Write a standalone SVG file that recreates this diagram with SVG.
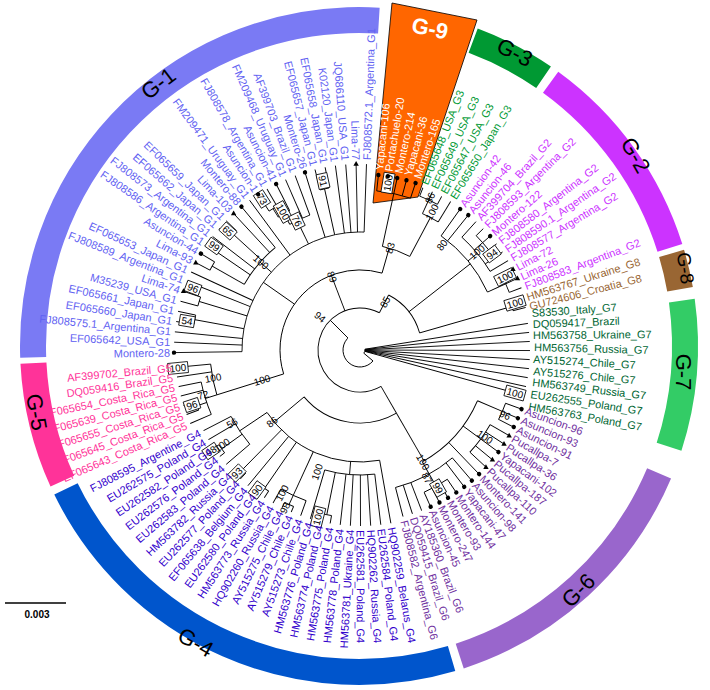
<svg xmlns="http://www.w3.org/2000/svg" width="710" height="690" viewBox="0 0 710 690">
<style>
text{font-family:"Liberation Sans",Arial,sans-serif}
.lf text{font-size:11px}
.e{text-anchor:end}
.c1{fill:#6262F2}.c5{fill:#FF3399}.c4{fill:#3300CC}.c6{fill:#7030A0}.c7{fill:#006633}.c8{fill:#996633}.c2{fill:#CC33FF}.c3{fill:#009933}.c9{fill:#FFFFFF}
.mk{fill:#000}
.cn line{stroke:#000;stroke-width:0.9}
.cn circle{fill:none;stroke:#000;stroke-width:0.9}
.ring circle{fill:none;stroke-width:26}
.bs text{font-size:10px;fill:#000;text-anchor:middle}
.bs rect{fill:#fff;stroke:#000;stroke-width:0.8}
.gl{font-size:22px;fill:#000;text-anchor:middle}
</style>
<rect width="710" height="690" fill="#fff"/>
<g id="rings" class="ring">
<circle cx="359" cy="346" r="326" pathLength="360" stroke-dasharray="95.5 400" transform="rotate(178 359 346)" stroke="#7A7AF4"/>
<circle cx="359" cy="346" r="326" pathLength="360" stroke-dasharray="21.5 400" transform="rotate(155.5 359 346)" stroke="#FF3399"/>
<circle cx="359" cy="346" r="326" pathLength="360" stroke-dasharray="80.5 400" transform="rotate(73.5 359 346)" stroke="#0055CC"/>
<circle cx="359" cy="346" r="326" pathLength="360" stroke-dasharray="49 400" transform="rotate(23 359 346)" stroke="#9966CC"/>
<circle cx="359" cy="346" r="326" pathLength="360" stroke-dasharray="26 400" transform="rotate(-8 359 346)" stroke="#33CC66"/>
<circle cx="359" cy="346" r="326" pathLength="360" stroke-dasharray="6.5 400" transform="rotate(343.5 359 346)" stroke="#996633"/>
<circle cx="359" cy="346" r="326" pathLength="360" stroke-dasharray="36.5 400" transform="rotate(306 359 346)" stroke="#CC33FF"/>
<circle cx="359" cy="346" r="326" pathLength="360" stroke-dasharray="14 400" transform="rotate(290.5 359 346)" stroke="#009933"/>
</g>
<polygon id="G9-box" points="392,3 477,20 418,197 373,203" fill="#FF6600" stroke="#000" stroke-width="0.8"/>
<g id="connectors" class="cn">
<line x1="365" y1="350" x2="530" y2="350" transform="rotate(-9 360 350)"/>
<line x1="365" y1="350" x2="530" y2="350" transform="rotate(-5.94 360 350)"/>
<line x1="365" y1="350" x2="530" y2="350" transform="rotate(-2.88 360 350)"/>
<line x1="365" y1="350" x2="530" y2="350" transform="rotate(0.18 360 350)"/>
<line x1="365" y1="350" x2="530" y2="350" transform="rotate(3.24 360 350)"/>
<line x1="365" y1="350" x2="530" y2="350" transform="rotate(6.3 360 350)"/>
<line x1="365" y1="350" x2="530" y2="350" transform="rotate(9.36 360 350)"/>
<line x1="365" y1="350" x2="530" y2="350" transform="rotate(12.42 360 350)"/>
<line x1="365" y1="350" x2="530" y2="350" transform="rotate(15.48 360 350)"/>
<circle cx="360" cy="350" r="5" pathLength="360" stroke-dasharray="49 400" transform="rotate(-9 360 350)"/>
<line x1="365" y1="350" x2="377" y2="350" transform="rotate(40 360 350)"/>
<circle cx="360" cy="350" r="17" pathLength="360" stroke-dasharray="185 400" transform="rotate(40 360 350)"/>
<line x1="377" y1="350" x2="402" y2="350" transform="rotate(225 360 350)"/>
<circle cx="360" cy="350" r="42" pathLength="360" stroke-dasharray="237.5 400" transform="rotate(60 360 350)"/>
<line x1="402" y1="350" x2="433" y2="350" transform="rotate(60 360 350)"/>
<circle cx="360" cy="350" r="73" pathLength="360" stroke-dasharray="80 400" transform="rotate(60 360 350)"/>
<line x1="433" y1="350" x2="488" y2="350" transform="rotate(60 360 350)"/>
<circle cx="360" cy="350" r="128" pathLength="360" stroke-dasharray="37.49 400" transform="rotate(23.36 360 350)"/>
<line x1="488" y1="350" x2="515" y2="350" transform="rotate(23.36 360 350)"/>
<circle cx="360" cy="350" r="155" pathLength="360" stroke-dasharray="6.52 400" transform="rotate(20.1 360 350)"/>
<line x1="515" y1="350" x2="532" y2="350" transform="rotate(20.1 360 350)"/>
<line x1="515" y1="350" x2="532" y2="350" transform="rotate(23.36 360 350)"/>
<line x1="515" y1="350" x2="532" y2="350" transform="rotate(26.62 360 350)"/>
<line x1="488" y1="350" x2="510" y2="350" transform="rotate(36.4 360 350)"/>
<circle cx="360" cy="350" r="150" pathLength="360" stroke-dasharray="13.04 400" transform="rotate(29.88 360 350)"/>
<line x1="510" y1="350" x2="532" y2="350" transform="rotate(29.88 360 350)"/>
<line x1="510" y1="350" x2="532" y2="350" transform="rotate(33.14 360 350)"/>
<line x1="510" y1="350" x2="532" y2="350" transform="rotate(36.4 360 350)"/>
<line x1="510" y1="350" x2="532" y2="350" transform="rotate(39.66 360 350)"/>
<line x1="510" y1="350" x2="532" y2="350" transform="rotate(42.92 360 350)"/>
<line x1="488" y1="350" x2="532" y2="350" transform="rotate(46.18 360 350)"/>
<line x1="488" y1="350" x2="502" y2="350" transform="rotate(60.85 360 350)"/>
<circle cx="360" cy="350" r="142" pathLength="360" stroke-dasharray="26.08 400" transform="rotate(49.44 360 350)"/>
<line x1="502" y1="350" x2="532" y2="350" transform="rotate(49.44 360 350)"/>
<line x1="502" y1="350" x2="532" y2="350" transform="rotate(52.7 360 350)"/>
<line x1="502" y1="350" x2="532" y2="350" transform="rotate(69 360 350)"/>
<line x1="502" y1="350" x2="532" y2="350" transform="rotate(72.26 360 350)"/>
<line x1="502" y1="350" x2="532" y2="350" transform="rotate(75.52 360 350)"/>
<line x1="502" y1="350" x2="516" y2="350" transform="rotate(60.85 360 350)"/>
<circle cx="360" cy="350" r="156" pathLength="360" stroke-dasharray="9.78 400" transform="rotate(55.96 360 350)"/>
<line x1="516" y1="350" x2="532" y2="350" transform="rotate(55.96 360 350)"/>
<line x1="516" y1="350" x2="532" y2="350" transform="rotate(59.22 360 350)"/>
<line x1="516" y1="350" x2="532" y2="350" transform="rotate(62.48 360 350)"/>
<line x1="516" y1="350" x2="532" y2="350" transform="rotate(65.74 360 350)"/>
<line x1="433" y1="350" x2="472" y2="350" transform="rotate(140 360 350)"/>
<circle cx="360" cy="350" r="112" pathLength="360" stroke-dasharray="66.2 400" transform="rotate(79.9 360 350)"/>
<line x1="472" y1="350" x2="536" y2="350" transform="rotate(79.9 360 350)"/>
<line x1="472" y1="350" x2="485" y2="350" transform="rotate(94.8 360 350)"/>
<circle cx="360" cy="350" r="125" pathLength="360" stroke-dasharray="23.17 400" transform="rotate(83.21 360 350)"/>
<line x1="485" y1="350" x2="536" y2="350" transform="rotate(83.21 360 350)"/>
<line x1="485" y1="350" x2="536" y2="350" transform="rotate(86.52 360 350)"/>
<line x1="485" y1="350" x2="536" y2="350" transform="rotate(89.83 360 350)"/>
<line x1="485" y1="350" x2="536" y2="350" transform="rotate(93.14 360 350)"/>
<line x1="485" y1="350" x2="536" y2="350" transform="rotate(96.45 360 350)"/>
<line x1="485" y1="350" x2="536" y2="350" transform="rotate(106.38 360 350)"/>
<line x1="485" y1="350" x2="528" y2="350" transform="rotate(101.4 360 350)"/>
<circle cx="360" cy="350" r="168" pathLength="360" stroke-dasharray="3.31 400" transform="rotate(99.76 360 350)"/>
<line x1="528" y1="350" x2="536" y2="350" transform="rotate(99.76 360 350)"/>
<line x1="528" y1="350" x2="536" y2="350" transform="rotate(103.07 360 350)"/>
<line x1="472" y1="350" x2="520" y2="350" transform="rotate(114.66 360 350)"/>
<circle cx="360" cy="350" r="160" pathLength="360" stroke-dasharray="9.93 400" transform="rotate(109.69 360 350)"/>
<line x1="520" y1="350" x2="536" y2="350" transform="rotate(109.69 360 350)"/>
<line x1="520" y1="350" x2="536" y2="350" transform="rotate(119.62 360 350)"/>
<line x1="520" y1="350" x2="530" y2="350" transform="rotate(114.66 360 350)"/>
<circle cx="360" cy="350" r="170" pathLength="360" stroke-dasharray="3.31 400" transform="rotate(113 360 350)"/>
<line x1="530" y1="350" x2="536" y2="350" transform="rotate(113 360 350)"/>
<line x1="530" y1="350" x2="536" y2="350" transform="rotate(116.31 360 350)"/>
<line x1="472" y1="350" x2="528" y2="350" transform="rotate(124.6 360 350)"/>
<circle cx="360" cy="350" r="168" pathLength="360" stroke-dasharray="3.31 400" transform="rotate(122.93 360 350)"/>
<line x1="528" y1="350" x2="536" y2="350" transform="rotate(122.93 360 350)"/>
<line x1="528" y1="350" x2="536" y2="350" transform="rotate(126.24 360 350)"/>
<line x1="472" y1="350" x2="536" y2="350" transform="rotate(129.55 360 350)"/>
<line x1="472" y1="350" x2="528" y2="350" transform="rotate(134.5 360 350)"/>
<circle cx="360" cy="350" r="168" pathLength="360" stroke-dasharray="3.31 400" transform="rotate(132.86 360 350)"/>
<line x1="528" y1="350" x2="536" y2="350" transform="rotate(132.86 360 350)"/>
<line x1="528" y1="350" x2="536" y2="350" transform="rotate(136.17 360 350)"/>
<line x1="472" y1="350" x2="505" y2="350" transform="rotate(146.1 360 350)"/>
<circle cx="360" cy="350" r="145" pathLength="360" stroke-dasharray="13.24 400" transform="rotate(139.48 360 350)"/>
<line x1="505" y1="350" x2="536" y2="350" transform="rotate(139.48 360 350)"/>
<line x1="505" y1="350" x2="536" y2="350" transform="rotate(149.41 360 350)"/>
<line x1="505" y1="350" x2="536" y2="350" transform="rotate(152.72 360 350)"/>
<line x1="505" y1="350" x2="530" y2="350" transform="rotate(144.45 360 350)"/>
<circle cx="360" cy="350" r="170" pathLength="360" stroke-dasharray="3.31 400" transform="rotate(142.79 360 350)"/>
<line x1="530" y1="350" x2="536" y2="350" transform="rotate(142.79 360 350)"/>
<line x1="530" y1="350" x2="536" y2="350" transform="rotate(146.1 360 350)"/>
<line x1="440" y1="350" x2="510" y2="350" transform="rotate(162.6 360 350)"/>
<circle cx="360" cy="350" r="150" pathLength="360" stroke-dasharray="12 400" transform="rotate(162.6 360 350)"/>
<line x1="510" y1="350" x2="522" y2="350" transform="rotate(162.6 360 350)"/>
<circle cx="360" cy="350" r="162" pathLength="360" stroke-dasharray="12 400" transform="rotate(156.6 360 350)"/>
<line x1="522" y1="350" x2="545" y2="350" transform="rotate(156.6 360 350)"/>
<line x1="522" y1="350" x2="545" y2="350" transform="rotate(165.6 360 350)"/>
<line x1="522" y1="350" x2="545" y2="350" transform="rotate(168.6 360 350)"/>
<line x1="522" y1="350" x2="532" y2="350" transform="rotate(161.1 360 350)"/>
<circle cx="360" cy="350" r="172" pathLength="360" stroke-dasharray="3 400" transform="rotate(159.6 360 350)"/>
<line x1="532" y1="350" x2="545" y2="350" transform="rotate(159.6 360 350)"/>
<line x1="532" y1="350" x2="545" y2="350" transform="rotate(162.6 360 350)"/>
<line x1="510" y1="350" x2="545" y2="350" transform="rotate(171.6 360 350)"/>
<line x1="510" y1="350" x2="545" y2="350" transform="rotate(174.6 360 350)"/>
<line x1="402" y1="350" x2="440" y2="350" transform="rotate(249 360 350)"/>
<circle cx="360" cy="350" r="80" pathLength="360" stroke-dasharray="123.4 400" transform="rotate(162.6 360 350)"/>
<line x1="440" y1="350" x2="478" y2="350" transform="rotate(215 360 350)"/>
<circle cx="360" cy="350" r="118" pathLength="360" stroke-dasharray="92.8 400" transform="rotate(179.2 360 350)"/>
<line x1="478" y1="350" x2="546" y2="350" transform="rotate(179.2 360 350)"/>
<line x1="478" y1="350" x2="546" y2="350" transform="rotate(182.4 360 350)"/>
<line x1="478" y1="350" x2="546" y2="350" transform="rotate(185.6 360 350)"/>
<line x1="478" y1="350" x2="546" y2="350" transform="rotate(201.6 360 350)"/>
<line x1="478" y1="350" x2="546" y2="350" transform="rotate(204.8 360 350)"/>
<line x1="478" y1="350" x2="546" y2="350" transform="rotate(233.6 360 350)"/>
<line x1="478" y1="350" x2="546" y2="350" transform="rotate(252.8 360 350)"/>
<line x1="478" y1="350" x2="546" y2="350" transform="rotate(262.4 360 350)"/>
<line x1="478" y1="350" x2="546" y2="350" transform="rotate(265.6 360 350)"/>
<line x1="478" y1="350" x2="546" y2="350" transform="rotate(268.8 360 350)"/>
<line x1="478" y1="350" x2="546" y2="350" transform="rotate(272 360 350)"/>
<line x1="478" y1="350" x2="528" y2="350" transform="rotate(190.4 360 350)"/>
<circle cx="360" cy="350" r="168" pathLength="360" stroke-dasharray="3.2 400" transform="rotate(188.8 360 350)"/>
<line x1="528" y1="350" x2="546" y2="350" transform="rotate(188.8 360 350)"/>
<line x1="528" y1="350" x2="546" y2="350" transform="rotate(192 360 350)"/>
<line x1="478" y1="350" x2="528" y2="350" transform="rotate(196.8 360 350)"/>
<circle cx="360" cy="350" r="168" pathLength="360" stroke-dasharray="3.2 400" transform="rotate(195.2 360 350)"/>
<line x1="528" y1="350" x2="546" y2="350" transform="rotate(195.2 360 350)"/>
<line x1="528" y1="350" x2="546" y2="350" transform="rotate(198.4 360 350)"/>
<line x1="478" y1="350" x2="493" y2="350" transform="rotate(221.3 360 350)"/>
<circle cx="360" cy="350" r="133" pathLength="360" stroke-dasharray="20.8 400" transform="rotate(209.6 360 350)"/>
<line x1="493" y1="350" x2="530" y2="350" transform="rotate(209.6 360 350)"/>
<circle cx="360" cy="350" r="170" pathLength="360" stroke-dasharray="3.2 400" transform="rotate(208 360 350)"/>
<line x1="530" y1="350" x2="546" y2="350" transform="rotate(208 360 350)"/>
<line x1="530" y1="350" x2="546" y2="350" transform="rotate(211.2 360 350)"/>
<line x1="493" y1="350" x2="546" y2="350" transform="rotate(214.4 360 350)"/>
<line x1="493" y1="350" x2="546" y2="350" transform="rotate(217.6 360 350)"/>
<line x1="493" y1="350" x2="546" y2="350" transform="rotate(227.2 360 350)"/>
<line x1="493" y1="350" x2="546" y2="350" transform="rotate(230.4 360 350)"/>
<line x1="493" y1="350" x2="532" y2="350" transform="rotate(222.4 360 350)"/>
<circle cx="360" cy="350" r="172" pathLength="360" stroke-dasharray="3.2 400" transform="rotate(220.8 360 350)"/>
<line x1="532" y1="350" x2="546" y2="350" transform="rotate(220.8 360 350)"/>
<line x1="532" y1="350" x2="546" y2="350" transform="rotate(224 360 350)"/>
<line x1="478" y1="350" x2="504" y2="350" transform="rotate(244.1 360 350)"/>
<circle cx="360" cy="350" r="144" pathLength="360" stroke-dasharray="8.8 400" transform="rotate(240.8 360 350)"/>
<line x1="504" y1="350" x2="516" y2="350" transform="rotate(240.8 360 350)"/>
<circle cx="360" cy="350" r="156" pathLength="360" stroke-dasharray="4.8 400" transform="rotate(238.4 360 350)"/>
<line x1="516" y1="350" x2="526" y2="350" transform="rotate(238.4 360 350)"/>
<circle cx="360" cy="350" r="166" pathLength="360" stroke-dasharray="3.2 400" transform="rotate(236.8 360 350)"/>
<line x1="526" y1="350" x2="546" y2="350" transform="rotate(236.8 360 350)"/>
<line x1="526" y1="350" x2="546" y2="350" transform="rotate(240 360 350)"/>
<line x1="516" y1="350" x2="546" y2="350" transform="rotate(243.2 360 350)"/>
<line x1="504" y1="350" x2="546" y2="350" transform="rotate(246.4 360 350)"/>
<line x1="504" y1="350" x2="546" y2="350" transform="rotate(249.6 360 350)"/>
<line x1="478" y1="350" x2="525" y2="350" transform="rotate(257.6 360 350)"/>
<circle cx="360" cy="350" r="165" pathLength="360" stroke-dasharray="3.2 400" transform="rotate(256 360 350)"/>
<line x1="525" y1="350" x2="546" y2="350" transform="rotate(256 360 350)"/>
<line x1="525" y1="350" x2="546" y2="350" transform="rotate(259.2 360 350)"/>
<line x1="440" y1="350" x2="466" y2="350" transform="rotate(286 360 350)"/>
<circle cx="360" cy="350" r="106" pathLength="360" stroke-dasharray="15.8 400" transform="rotate(282.2 360 350)"/>
<line x1="466" y1="350" x2="520" y2="350" transform="rotate(282.2 360 350)"/>
<circle cx="360" cy="350" r="160" pathLength="360" stroke-dasharray="12.4 400" transform="rotate(276 360 350)"/>
<line x1="520" y1="350" x2="536" y2="350" transform="rotate(276 360 350)"/>
<line x1="520" y1="350" x2="536" y2="350" transform="rotate(279.1 360 350)"/>
<line x1="520" y1="350" x2="536" y2="350" transform="rotate(282.2 360 350)"/>
<line x1="520" y1="350" x2="536" y2="350" transform="rotate(285.3 360 350)"/>
<line x1="520" y1="350" x2="536" y2="350" transform="rotate(288.4 360 350)"/>
<line x1="466" y1="350" x2="510" y2="350" transform="rotate(298 360 350)"/>
<circle cx="360" cy="350" r="150" pathLength="360" stroke-dasharray="6.8 400" transform="rotate(294.6 360 350)"/>
<line x1="510" y1="350" x2="525" y2="350" transform="rotate(294.6 360 350)"/>
<circle cx="360" cy="350" r="165" pathLength="360" stroke-dasharray="6.8 400" transform="rotate(291.2 360 350)"/>
<line x1="525" y1="350" x2="534" y2="350" transform="rotate(291.2 360 350)"/>
<line x1="525" y1="350" x2="534" y2="350" transform="rotate(294.6 360 350)"/>
<line x1="525" y1="350" x2="534" y2="350" transform="rotate(298 360 350)"/>
<line x1="510" y1="350" x2="534" y2="350" transform="rotate(301.4 360 350)"/>
<line x1="402" y1="350" x2="422" y2="350" transform="rotate(297.5 360 350)"/>
<circle cx="360" cy="350" r="62" pathLength="360" stroke-dasharray="46.5 400" transform="rotate(297.5 360 350)"/>
<line x1="422" y1="350" x2="500" y2="350" transform="rotate(322 360 350)"/>
<circle cx="360" cy="350" r="140" pathLength="360" stroke-dasharray="30.15 400" transform="rotate(305.4 360 350)"/>
<line x1="500" y1="350" x2="533" y2="350" transform="rotate(305.4 360 350)"/>
<line x1="500" y1="350" x2="533" y2="350" transform="rotate(308.75 360 350)"/>
<line x1="500" y1="350" x2="512" y2="350" transform="rotate(320.5 360 350)"/>
<circle cx="360" cy="350" r="152" pathLength="360" stroke-dasharray="16.75 400" transform="rotate(312.1 360 350)"/>
<line x1="512" y1="350" x2="533" y2="350" transform="rotate(312.1 360 350)"/>
<line x1="512" y1="350" x2="533" y2="350" transform="rotate(325.5 360 350)"/>
<line x1="512" y1="350" x2="533" y2="350" transform="rotate(328.85 360 350)"/>
<line x1="512" y1="350" x2="523" y2="350" transform="rotate(318.8 360 350)"/>
<circle cx="360" cy="350" r="163" pathLength="360" stroke-dasharray="6.7 400" transform="rotate(315.45 360 350)"/>
<line x1="523" y1="350" x2="533" y2="350" transform="rotate(315.45 360 350)"/>
<line x1="523" y1="350" x2="533" y2="350" transform="rotate(318.8 360 350)"/>
<line x1="523" y1="350" x2="533" y2="350" transform="rotate(322.15 360 350)"/>
<line x1="500" y1="350" x2="520" y2="350" transform="rotate(335.55 360 350)"/>
<circle cx="360" cy="350" r="160" pathLength="360" stroke-dasharray="6.7 400" transform="rotate(332.2 360 350)"/>
<line x1="520" y1="350" x2="533" y2="350" transform="rotate(332.2 360 350)"/>
<line x1="520" y1="350" x2="533" y2="350" transform="rotate(335.55 360 350)"/>
<line x1="520" y1="350" x2="533" y2="350" transform="rotate(338.9 360 350)"/>
<line x1="422" y1="350" x2="518" y2="350" transform="rotate(344 360 350)"/>
<circle cx="360" cy="350" r="158" pathLength="360" stroke-dasharray="3.2 400" transform="rotate(342.4 360 350)"/>
<line x1="518" y1="350" x2="531" y2="350" transform="rotate(342.4 360 350)"/>
<line x1="518" y1="350" x2="531" y2="350" transform="rotate(345.6 360 350)"/>
</g>
<g id="bootstrap" class="bs">
<g transform="translate(323 181) rotate(77.6)"><rect x="-7.5" y="-5.5" width="15" height="11"/><text y="3.6">91</text></g>
<g transform="translate(262 199) rotate(57.4)"><rect x="-7.5" y="-5.5" width="15" height="11"/><text y="3.6">73</text></g>
<g transform="translate(283 212) rotate(60.5)"><rect x="-10" y="-5.5" width="20" height="11"/><text y="3.6">100</text></g>
<g transform="translate(297 221) rotate(64.1)"><rect x="-7.5" y="-5.5" width="15" height="11"/><text y="3.6">76</text></g>
<g transform="translate(228 231) rotate(42)"><rect x="-7.5" y="-5.5" width="15" height="11"/><text y="3.6">65</text></g>
<g transform="translate(214 246) rotate(35.5)"><rect x="-7.5" y="-5.5" width="15" height="11"/><text y="3.6">99</text></g>
<g transform="translate(261 262) rotate(41.3)"><text y="3.6">100</text></g>
<g transform="translate(193 288) rotate(20.7)"><rect x="-7.5" y="-5.5" width="15" height="11"/><text y="3.6">96</text></g>
<g transform="translate(187 321) rotate(9.5)"><rect x="-7.5" y="-5.5" width="15" height="11"/><text y="3.6">54</text></g>
<g transform="translate(332 277) rotate(69)"><text y="3.6">89</text></g>
<g transform="translate(320 317) rotate(39.5)"><text y="3.6">94</text></g>
<g transform="translate(385 302) rotate(-62.5)"><text y="3.6">85</text></g>
<g transform="translate(390 248) rotate(-73.6)"><text y="3.6">83</text></g>
<g transform="translate(388 183) rotate(-80.5)"><rect x="-10" y="-5.5" width="20" height="11"/><text y="3.6">100</text></g>
<g transform="translate(430 198) rotate(-65.3)"><text y="3.6">86</text></g>
<g transform="translate(432 212) rotate(-62.5)"><text y="3.6">100</text></g>
<g transform="translate(442 245) rotate(-52)"><text y="3.6">80</text></g>
<g transform="translate(477 252) rotate(-40)"><text y="3.6">100</text></g>
<g transform="translate(492 254) rotate(-36.6)"><rect x="-7.5" y="-5.5" width="15" height="11"/><text y="3.6">94</text></g>
<g transform="translate(505 277) rotate(-26.7)"><rect x="-10" y="-5.5" width="20" height="11"/><text y="3.6">100</text></g>
<g transform="translate(515 303) rotate(-16.9)"><rect x="-10" y="-5.5" width="20" height="11"/><text y="3.6">100</text></g>
<g transform="translate(515 393) rotate(15.5)"><rect x="-10" y="-5.5" width="20" height="11"/><text y="3.6">100</text></g>
<g transform="translate(505 415) rotate(24.1)"><text y="3.6">96</text></g>
<g transform="translate(485 437) rotate(34.8)"><text y="3.6">100</text></g>
<g transform="translate(423 462) rotate(60.6)"><text y="3.6">100</text></g>
<g transform="translate(427 478) rotate(62.4)"><text y="3.6">87</text></g>
<g transform="translate(438 488) rotate(60.5)"><rect x="-7.5" y="-5.5" width="15" height="11"/><text y="3.6">99</text></g>
<g transform="translate(317 472) rotate(-70.6)"><text y="3.6">100</text></g>
<g transform="translate(318 517) rotate(-75.9)"><rect x="-10" y="-5.5" width="20" height="11"/><text y="3.6">100</text></g>
<g transform="translate(285 508) rotate(-64.6)"><text y="3.6">98</text></g>
<g transform="translate(282 493) rotate(-61.4)"><text y="3.6">100</text></g>
<g transform="translate(257 490) rotate(-53.7)"><rect x="-7.5" y="-5.5" width="15" height="11"/><text y="3.6">90</text></g>
<g transform="translate(237 473) rotate(-45)"><rect x="-7.5" y="-5.5" width="15" height="11"/><text y="3.6">93</text></g>
<g transform="translate(211 451) rotate(-34)"><rect x="-7.5" y="-5.5" width="15" height="11"/><text y="3.6">98</text></g>
<g transform="translate(222 445) rotate(-34)"><text y="3.6">100</text></g>
<g transform="translate(232 423) rotate(-29.7)"><text y="3.6">56</text></g>
<g transform="translate(272 422) rotate(-39.3)"><text y="3.6">86</text></g>
<g transform="translate(262 380) rotate(-17)"><text y="3.6">100</text></g>
<g transform="translate(213 378) rotate(-10.8)"><text y="3.6">100</text></g>
<g transform="translate(203 395) rotate(-16)"><text y="3.6">72</text></g>
<g transform="translate(192 405) rotate(-18.1)"><rect x="-7.5" y="-5.5" width="15" height="11"/><text y="3.6">96</text></g>
<g transform="translate(178 368) rotate(-5.6)"><rect x="-10" y="-5.5" width="20" height="11"/><text y="3.6">100</text></g>
</g>
<g id="leaves" class="lf">
<!-- G-1 -->
<g id="Montero-28" class="c1" transform="rotate(-0.8 360 350)"><circle class="mk" cx="174" cy="350" r="2.2"/><text class="e" x="170" y="354">Montero-28</text></g>
<g id="EF065642" class="c1" transform="rotate(2.4 360 350)"><text class="e" x="170" y="354">EF065642_USA_G1</text></g>
<g id="FJ808575.1" class="c1" transform="rotate(5.6 360 350)"><text class="e" x="170" y="354">FJ808575.1_Argentina_G1</text></g>
<g id="EF065660" class="c1" transform="rotate(8.8 360 350)"><text class="e" x="170" y="354">EF065660_Japan_G1</text></g>
<g id="EF065661" class="c1" transform="rotate(12 360 350)"><text class="e" x="170" y="354">EF065661_Japan_G1</text></g>
<g id="M35239" class="c1" transform="rotate(15.2 360 350)"><text class="e" x="170" y="354">M35239_USA_G1</text></g>
<g id="Lima-74" class="c1" transform="rotate(18.4 360 350)"><path class="mk" d="M0,-3L2.7,1.8L-2.7,1.8Z" transform="translate(174 350) rotate(-18.4)"/><text class="e" x="170" y="354">Lima-74</text></g>
<g id="FJ808589" class="c1" transform="rotate(21.6 360 350)"><text class="e" x="170" y="354">FJ808589_Argentina_G1</text></g>
<g id="EF065653" class="c1" transform="rotate(24.8 360 350)"><text class="e" x="170" y="354">EF065653_Japan_G1</text></g>
<g id="Lima-93" class="c1" transform="rotate(28 360 350)"><path class="mk" d="M0,-3L2.7,1.8L-2.7,1.8Z" transform="translate(174 350) rotate(-28)"/><text class="e" x="170" y="354">Lima-93</text></g>
<g id="Asuncion-44" class="c1" transform="rotate(31.2 360 350)"><circle class="mk" cx="174" cy="350" r="2.2"/><text class="e" x="170" y="354">Asuncion-44</text></g>
<g id="FJ808586" class="c1" transform="rotate(34.4 360 350)"><text class="e" x="170" y="354">FJ808586_Argentina_G1</text></g>
<g id="FJ808573" class="c1" transform="rotate(37.6 360 350)"><text class="e" x="170" y="354">FJ808573_Argentina_G1</text></g>
<g id="EF065662" class="c1" transform="rotate(40.8 360 350)"><text class="e" x="170" y="354">EF065662_Japan_G1</text></g>
<g id="EF065659" class="c1" transform="rotate(44 360 350)"><text class="e" x="170" y="354">EF065659_Japan_G1</text></g>
<g id="Lima-103" class="c1" transform="rotate(47.2 360 350)"><path class="mk" d="M0,-3L2.7,1.8L-2.7,1.8Z" transform="translate(174 350) rotate(-47.2)"/><text class="e" x="170" y="354">Lima-103</text></g>
<g id="Montero-88" class="c1" transform="rotate(50.4 360 350)"><circle class="mk" cx="174" cy="350" r="2.2"/><text class="e" x="170" y="354">Montero-88</text></g>
<g id="FM209471" class="c1" transform="rotate(53.6 360 350)"><text class="e" x="170" y="354">FM209471_Uruguay_G1</text></g>
<g id="Asuncion-1" class="c1" transform="rotate(56.8 360 350)"><circle class="mk" cx="174" cy="350" r="2.2"/><text class="e" x="170" y="354">Asuncion-1</text></g>
<g id="FJ808578" class="c1" transform="rotate(60 360 350)"><text class="e" x="170" y="354">FJ808578_Argentina_G1</text></g>
<g id="Asuncion-41" class="c1" transform="rotate(63.2 360 350)"><circle class="mk" cx="174" cy="350" r="2.2"/><text class="e" x="170" y="354">Asuncion-41</text></g>
<g id="FM209468" class="c1" transform="rotate(66.4 360 350)"><text class="e" x="170" y="354">FM209468_Uruguay_G1</text></g>
<g id="AF399703" class="c1" transform="rotate(69.6 360 350)"><text class="e" x="170" y="354">AF399703_Brazil_G1</text></g>
<g id="Montero-26" class="c1" transform="rotate(72.8 360 350)"><circle class="mk" cx="174" cy="350" r="2.2"/><text class="e" x="170" y="354">Montero-26</text></g>
<g id="EF065657" class="c1" transform="rotate(76 360 350)"><text class="e" x="170" y="354">EF065657_Japan_G1</text></g>
<g id="EF065658" class="c1" transform="rotate(79.2 360 350)"><text class="e" x="170" y="354">EF065658_Japan_G1</text></g>
<g id="K02120" class="c1" transform="rotate(82.4 360 350)"><text class="e" x="170" y="354">K02120_Japan_G1</text></g>
<g id="JQ686110" class="c1" transform="rotate(85.6 360 350)"><text class="e" x="170" y="354">JQ686110_USA_G1</text></g>
<g id="Lima-77" class="c1" transform="rotate(88.8 360 350)"><path class="mk" d="M0,-3L2.7,1.8L-2.7,1.8Z" transform="translate(174 350) rotate(-88.8)"/><text class="e" x="170" y="354">Lima-77</text></g>
<g id="FJ808572.1" class="c1" transform="rotate(272 360 350)"><text x="550" y="354">FJ808572.1_Argentina_G1</text></g>
<!-- G-9 -->
<g id="Yapacani-106" class="c9" transform="rotate(276 360 350)"><circle class="mk" cx="536" cy="350" r="2.2"/><text x="541" y="354">Yapacani-106</text></g>
<g id="Portachuelo-20" class="c9" transform="rotate(279.1 360 350)"><circle class="mk" cx="536" cy="350" r="2.2"/><text x="541" y="354">Portachuelo-20</text></g>
<g id="Montero-214" class="c9" transform="rotate(282.2 360 350)"><circle class="mk" cx="536" cy="350" r="2.2"/><text x="541" y="354">Montero-214</text></g>
<g id="Yapacani-36" class="c9" transform="rotate(285.3 360 350)"><circle class="mk" cx="536" cy="350" r="2.2"/><text x="541" y="354">Yapacani-36</text></g>
<g id="Montero-165" class="c9" transform="rotate(288.4 360 350)"><circle class="mk" cx="536" cy="350" r="2.2"/><text x="541" y="354">Montero-165</text></g>
<!-- G-3 -->
<g id="EF065648" class="c3" transform="rotate(291.2 360 350)"><text x="538" y="354">EF065648_USA_G3</text></g>
<g id="EF065649" class="c3" transform="rotate(294.6 360 350)"><text x="538" y="354">EF065649_USA_G3</text></g>
<g id="EF065647" class="c3" transform="rotate(298 360 350)"><text x="538" y="354">EF065647_USA_G3</text></g>
<g id="EF065650" class="c3" transform="rotate(301.4 360 350)"><text x="538" y="354">EF065650_Japan_G3</text></g>
<!-- G-2 -->
<g id="Asuncion-42" class="c2" transform="rotate(305.4 360 350)"><circle class="mk" cx="533" cy="350" r="2.2"/><text x="537" y="354">Asuncion-42</text></g>
<g id="Asuncion-46" class="c2" transform="rotate(308.75 360 350)"><circle class="mk" cx="533" cy="350" r="2.2"/><text x="537" y="354">Asuncion-46</text></g>
<g id="AF399704" class="c2" transform="rotate(312.1 360 350)"><text x="537" y="354">AF399704_Brazil_G2</text></g>
<g id="FJ808593" class="c2" transform="rotate(315.45 360 350)"><text x="537" y="354">FJ808593_Argentina_G2</text></g>
<g id="Montero-122" class="c2" transform="rotate(318.8 360 350)"><circle class="mk" cx="533" cy="350" r="2.2"/><text x="537" y="354">Montero-122</text></g>
<g id="FJ808580" class="c2" transform="rotate(322.15 360 350)"><text x="537" y="354">FJ808580_Argentina_G2</text></g>
<g id="FJ808590.1" class="c2" transform="rotate(325.5 360 350)"><text x="537" y="354">FJ808590.1_Argentina_G2</text></g>
<g id="FJ808577" class="c2" transform="rotate(328.85 360 350)"><text x="537" y="354">FJ808577_Argentina_G2</text></g>
<g id="Lima-72" class="c2" transform="rotate(332.2 360 350)"><path class="mk" d="M0,-3L2.7,1.8L-2.7,1.8Z" transform="translate(533 350) rotate(27.8)"/><text x="537" y="354">Lima-72</text></g>
<g id="Lima-26" class="c2" transform="rotate(335.55 360 350)"><path class="mk" d="M0,-3L2.7,1.8L-2.7,1.8Z" transform="translate(533 350) rotate(24.45)"/><text x="537" y="354">Lima-26</text></g>
<g id="FJ808583" class="c2" transform="rotate(338.9 360 350)"><text x="537" y="354">FJ808583_Argentina_G2</text></g>
<!-- G-8 -->
<g id="HM563767" class="c8" transform="rotate(342.4 360 350)"><text x="535" y="354">HM563767_Ukraine_G8</text></g>
<g id="GU724606" class="c8" transform="rotate(345.6 360 350)"><text x="535" y="354">GU724606_Croatia_G8</text></g>
<!-- G-7 -->
<g id="G7-labels" class="c7">
<text x="532" y="317" transform="rotate(-4 532 317)">S83530_Italy_G7</text>
<text x="533" y="328" transform="rotate(-2.2 533 328)">DQ059417_Brazil</text>
<text x="533" y="339" transform="rotate(-0.4 533 339)">HM563758_Ukraine_G7</text>
<text x="534" y="351" transform="rotate(1.4 534 351)">HM563756_Russia_G7</text>
<text x="533" y="363" transform="rotate(3.2 533 363)">AY515274_Chile_G7</text>
<text x="533" y="375" transform="rotate(5 533 375)">AY515276_Chile_G7</text>
<text x="532" y="386" transform="rotate(6.8 532 386)">HM563749_Russia_G7</text>
<text x="530" y="398" transform="rotate(8.6 530 398)">EU262555_Poland_G7</text>
<text x="528" y="410" transform="rotate(10.4 528 410)">HM563763_Poland_G7</text>
</g>
<!-- G-6 -->
<g id="Asuncion-96" class="c6" transform="rotate(20.1 360 350)"><circle class="mk" cx="532" cy="350" r="2.2"/><text x="536" y="354">Asuncion-96</text></g>
<g id="Asuncion-93" class="c6" transform="rotate(23.36 360 350)"><circle class="mk" cx="532" cy="350" r="2.2"/><text x="536" y="354">Asuncion-93</text></g>
<g id="Asuncion-91" class="c6" transform="rotate(26.62 360 350)"><circle class="mk" cx="532" cy="350" r="2.2"/><text x="536" y="354">Asuncion-91</text></g>
<g id="Pucallpa-7" class="c6" transform="rotate(29.88 360 350)"><path class="mk" d="M0,-3L2.7,1.8L-2.7,1.8Z" transform="translate(532 350) rotate(-29.88)"/><text x="536" y="354">Pucallpa-7</text></g>
<g id="Pucallpa-36" class="c6" transform="rotate(33.14 360 350)"><path class="mk" d="M0,-3L2.7,1.8L-2.7,1.8Z" transform="translate(532 350) rotate(-33.14)"/><text x="536" y="354">Pucallpa-36</text></g>
<g id="Yapacani-102" class="c6" transform="rotate(36.4 360 350)"><circle class="mk" cx="532" cy="350" r="2.2"/><text x="536" y="354">Yapacani-102</text></g>
<g id="Pucallpa-187" class="c6" transform="rotate(39.66 360 350)"><path class="mk" d="M0,-3L2.7,1.8L-2.7,1.8Z" transform="translate(532 350) rotate(-39.66)"/><text x="536" y="354">Pucallpa-187</text></g>
<g id="Pucallpa-110" class="c6" transform="rotate(42.92 360 350)"><path class="mk" d="M0,-3L2.7,1.8L-2.7,1.8Z" transform="translate(532 350) rotate(-42.92)"/><text x="536" y="354">Pucallpa-110</text></g>
<g id="Montero-141" class="c6" transform="rotate(46.18 360 350)"><circle class="mk" cx="532" cy="350" r="2.2"/><text x="536" y="354">Montero-141</text></g>
<g id="Asuncion-98" class="c6" transform="rotate(49.44 360 350)"><circle class="mk" cx="532" cy="350" r="2.2"/><text x="536" y="354">Asuncion-98</text></g>
<g id="Yapacani-47" class="c6" transform="rotate(52.7 360 350)"><circle class="mk" cx="532" cy="350" r="2.2"/><text x="536" y="354">Yapacani-47</text></g>
<g id="Montero-144" class="c6" transform="rotate(55.96 360 350)"><circle class="mk" cx="532" cy="350" r="2.2"/><text x="536" y="354">Montero-144</text></g>
<g id="Montero-93" class="c6" transform="rotate(59.22 360 350)"><circle class="mk" cx="532" cy="350" r="2.2"/><text x="536" y="354">Montero-93</text></g>
<g id="Montero-247" class="c6" transform="rotate(62.48 360 350)"><circle class="mk" cx="532" cy="350" r="2.2"/><text x="536" y="354">Montero-247</text></g>
<g id="Asuncion-45" class="c6" transform="rotate(65.74 360 350)"><circle class="mk" cx="532" cy="350" r="2.2"/><text x="536" y="354">Asuncion-45</text></g>
<g id="AY185360" class="c6" transform="rotate(69 360 350)"><text x="536" y="354">AY185360_Brazil_G6</text></g>
<g id="DQ059415" class="c6" transform="rotate(72.26 360 350)"><text x="536" y="354">DQ059415_Brazil_G6</text></g>
<g id="FJ808582" class="c6" transform="rotate(75.52 360 350)"><text x="536" y="354">FJ808582_Argentina_G6</text></g>
<!-- G-4 -->
<g id="HQ902259" class="c4" transform="rotate(79.9 360 350)"><text x="540" y="354">HQ902259_Belarus_G4</text></g>
<g id="EU262584" class="c4" transform="rotate(83.21 360 350)"><text x="540" y="354">EU262584_Poland_G4</text></g>
<g id="HQ902262" class="c4" transform="rotate(86.52 360 350)"><text x="540" y="354">HQ902262_Russia_G4</text></g>
<g id="EU262581" class="c4" transform="rotate(89.83 360 350)"><text x="540" y="354">EU262581_Poland_G4</text></g>
<g id="HM563781" class="c4" transform="rotate(-86.86 360 350)"><text class="e" x="180" y="354">HM563781_Ukraine_G4</text></g>
<g id="HM563778" class="c4" transform="rotate(-83.55 360 350)"><text class="e" x="180" y="354">HM563778_Poland_G4</text></g>
<g id="HM563775" class="c4" transform="rotate(-80.24 360 350)"><text class="e" x="180" y="354">HM563775_Poland_G4</text></g>
<g id="HM563774" class="c4" transform="rotate(-76.93 360 350)"><text class="e" x="180" y="354">HM563774_Poland_G4</text></g>
<g id="HM563776" class="c4" transform="rotate(-73.62 360 350)"><text class="e" x="180" y="354">HM563776_Poland_G4</text></g>
<g id="AY515273" class="c4" transform="rotate(-70.31 360 350)"><text class="e" x="180" y="354">AY515273_Chile_G4</text></g>
<g id="AY515279" class="c4" transform="rotate(-67 360 350)"><text class="e" x="180" y="354">AY515279_Chile_G4</text></g>
<g id="AY515275" class="c4" transform="rotate(-63.69 360 350)"><text class="e" x="180" y="354">AY515275_Chile_G4</text></g>
<g id="HQ902260" class="c4" transform="rotate(-60.38 360 350)"><text class="e" x="180" y="354">HQ902260_Russia_G4</text></g>
<g id="HM563773" class="c4" transform="rotate(-57.07 360 350)"><text class="e" x="180" y="354">HM563773_Russia_G4</text></g>
<g id="EU262580" class="c4" transform="rotate(-53.76 360 350)"><text class="e" x="180" y="354">EU262580_Poland_G4</text></g>
<g id="EF065638" class="c4" transform="rotate(-50.45 360 350)"><text class="e" x="180" y="354">EF065638_Belgium_G4</text></g>
<g id="EU262577" class="c4" transform="rotate(-47.14 360 350)"><text class="e" x="180" y="354">EU262577_Poland_G4</text></g>
<g id="HM563782" class="c4" transform="rotate(-43.83 360 350)"><text class="e" x="180" y="354">HM563782_Russia_G4</text></g>
<g id="EU262583" class="c4" transform="rotate(-40.52 360 350)"><text class="e" x="180" y="354">EU262583_Poland_G4</text></g>
<g id="EU262576" class="c4" transform="rotate(-37.21 360 350)"><text class="e" x="180" y="354">EU262576_Poland_G4</text></g>
<g id="EU262582" class="c4" transform="rotate(-33.9 360 350)"><text class="e" x="180" y="354">EU262582_Poland_G4</text></g>
<g id="EU262575" class="c4" transform="rotate(-30.59 360 350)"><text class="e" x="180" y="354">EU262575_Poland_G4</text></g>
<g id="FJ808595" class="c4" transform="rotate(-27.28 360 350)"><text class="e" x="180" y="354">FJ808595_Argentine_G4</text></g>
<!-- G-5 -->
<g id="EF065643" class="c5" transform="rotate(-23.4 360 350)"><text class="e" x="171" y="354">EF065643_Costa_Rica_G5</text></g>
<g id="EF065645" class="c5" transform="rotate(-20.4 360 350)"><text class="e" x="171" y="354">EF065645_Costa_Rica_G5</text></g>
<g id="EF065655" class="c5" transform="rotate(-17.4 360 350)"><text class="e" x="171" y="354">EF065655_Costa_Rica_G5</text></g>
<g id="EF065639" class="c5" transform="rotate(-14.4 360 350)"><text class="e" x="171" y="354">EF065639_Costa_Rica_G5</text></g>
<g id="EF065654" class="c5" transform="rotate(-11.4 360 350)"><text class="e" x="171" y="354">EF065654_Costa_Rica_G5</text></g>
<g id="DQ059416" class="c5" transform="rotate(-8.4 360 350)"><text class="e" x="171" y="354">DQ059416_Brazil_G5</text></g>
<g id="AF399702" class="c5" transform="rotate(-5.4 360 350)"><text class="e" x="171" y="354">AF399702_Brazil_G5</text></g>
</g>
<g id="group-labels">
<text class="gl" x="158" y="91" transform="rotate(-37 158 83)">G-1</text>
<text class="gl" x="430" y="36" transform="rotate(12 430 28)" style="fill:#fff;font-weight:bold">G-9</text>
<text class="gl" x="515" y="60" transform="rotate(27 515 52)">G-3</text>
<text class="gl" x="636" y="163" transform="rotate(60 636 155)">G-2</text>
<text class="gl" x="686" y="275" transform="rotate(82 686 268)" style="font-size:19px">G-8</text>
<text class="gl" x="684" y="380" transform="rotate(90 684 372)">G-7</text>
<text class="gl" x="578" y="598" transform="rotate(-45 578 590)">G-6</text>
<text class="gl" x="196" y="650" transform="rotate(30 196 642)">G-4</text>
<text class="gl" x="37" y="420" transform="rotate(80 37 412)">G-5</text>
</g>
<g id="scale">
<line x1="5" y1="603" x2="66" y2="603" stroke="#000" stroke-width="1.3"/>
<text x="37" y="618" style="font-size:10px;font-weight:bold;text-anchor:middle">0.003</text>
</g>
</svg>
